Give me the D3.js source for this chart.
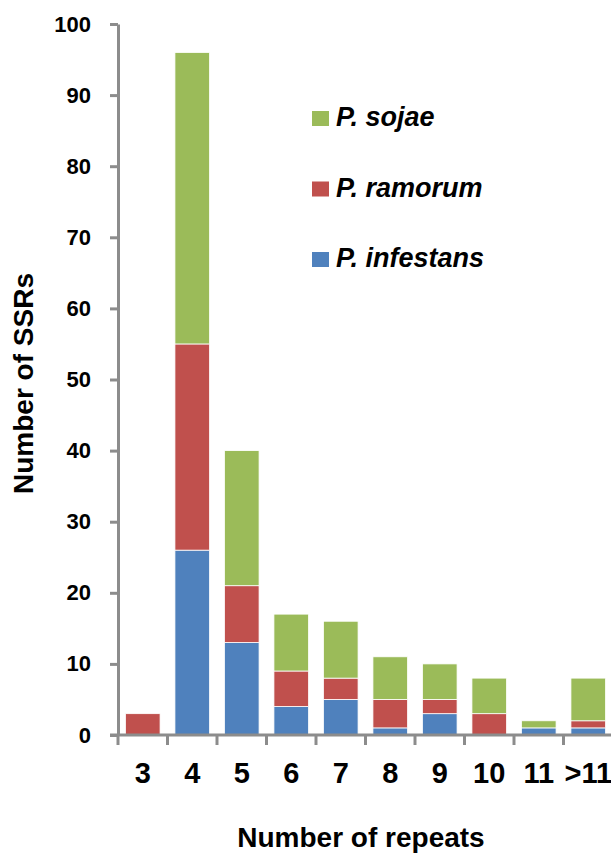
<!DOCTYPE html>
<html>
<head>
<meta charset="utf-8">
<script src="https://cdn.jsdelivr.net/npm/d3@7"></script>
<style>
  body { margin: 0; background: #fff; }
  svg text { font-family: "Liberation Sans", Arial, sans-serif; font-weight: bold; fill: #000; }
</style>
</head>
<body>
<div id="chart"></div>
<script>
const WIDTH = 611;
const HEIGHT = 854;

// data
const categories = ["3", "4", "5", "6", "7", "8", "9", "10", "11", ">11"];
const infestans = [0, 26, 13, 4, 5, 1, 3, 0, 1, 1];
const ramorum   = [3, 29, 8, 5, 3, 4, 2, 3, 0, 1];
const sojae     = [0, 41, 19, 8, 8, 6, 5, 5, 1, 6];
const seriesNames = ["P. infestans", "P. ramorum", "P. sojae"];
const seriesColors = ["#4F81BD", "#C0504D", "#9BBB59"];
const yTicks = [0, 10, 20, 30, 40, 50, 60, 70, 80, 90, 100];

let margin = {top: 24, right: -2, bottom: 119, left: 118};
let width = WIDTH - margin.left - margin.right;
let height = HEIGHT - margin.top - margin.bottom;

let rows = categories.map(function(c, i) {
  return {cat: c, "P. infestans": infestans[i], "P. ramorum": ramorum[i], "P. sojae": sojae[i]};
});
let stacked = d3.stack().keys(seriesNames)(rows);

let xScale = d3.scaleBand().domain(categories).range([0, width])
  .paddingInner(0.3).paddingOuter(0.15);
let yScale = d3.scaleLinear().domain([0, 100]).range([height, 0]);
let color = d3.scaleOrdinal().domain(seriesNames).range(seriesColors);

let svg = d3.select("#chart").append("svg")
  .attr("width", WIDTH)
  .attr("height", HEIGHT);
let svgG = svg.append("g")
  .attr("transform", "translate(" + margin.left + "," + margin.top + ")");

// bars
svgG.append("g").classed("bars", true)
  .selectAll("g.series").data(stacked).enter()
  .append("g").classed("series", true)
  .attr("fill", function(d) { return color(d.key); })
  .selectAll("rect").data(function(d) { return d; }).enter()
  .append("rect")
  .attr("x", function(d) { return xScale(d.data.cat); })
  .attr("width", xScale.bandwidth())
  .attr("y", function(d) { return yScale(d[1]); })
  .attr("height", function(d) { return yScale(d[0]) - yScale(d[1]); })
  .attr("stroke", "#fff")
  .attr("stroke-width", 0.8);

// y-axis
let yAxis = d3.axisLeft(yScale).tickValues(yTicks).tickSize(8).tickSizeOuter(0).tickPadding(19);
let yG = svgG.append("g").attr("class", "y axis").call(yAxis);
yG.select(".domain").attr("stroke", "#8c8c8c").attr("stroke-width", 3);
yG.selectAll(".tick line").attr("stroke", "#8c8c8c").attr("stroke-width", 3);
yG.selectAll(".tick text").style("font-size", "22px").attr("font-family", null);

// x-axis: ticks on category boundaries
let bounds = d3.range(categories.length + 1).map(function(i) { return i * xScale.step(); });
let xG = svgG.append("g").attr("class", "x axis")
  .attr("transform", "translate(0," + height + ")");
xG.append("line")
  .attr("x1", -8).attr("x2", width)
  .attr("stroke", "#8c8c8c").attr("stroke-width", 3);
xG.selectAll("line.tick").data(bounds).enter()
  .append("line").classed("tick", true)
  .attr("x1", function(d) { return d; })
  .attr("x2", function(d) { return d; })
  .attr("y1", 0).attr("y2", 10)
  .attr("stroke", "#8c8c8c").attr("stroke-width", 3);
xG.selectAll("text.label").data(categories).enter()
  .append("text").classed("label", true)
  .attr("x", function(d) { return xScale(d) + xScale.bandwidth() / 2; })
  .attr("y", 48)
  .attr("text-anchor", "middle")
  .style("font-size", "29px")
  .text(function(d) { return d; });

// axis titles
svg.append("text")
  .attr("x", 361)
  .attr("y", 847)
  .attr("text-anchor", "middle")
  .style("font-size", "28px")
  .text("Number of repeats");
svg.append("text")
  .attr("transform", "translate(33," + (margin.top + height / 2 + 4) + ") rotate(-90)")
  .attr("text-anchor", "middle")
  .style("font-size", "28px")
  .text("Number of SSRs");

// legend, top entry is the top of the stack
let legendKeys = seriesNames.slice().reverse();
let legend = svg.append("g").classed("legend", true)
  .selectAll("g").data(legendKeys).enter()
  .append("g")
  .attr("transform", function(d, i) { return "translate(312," + (126 + i * 70.5) + ")"; });
legend.append("rect")
  .attr("x", 0).attr("y", -15)
  .attr("width", 17).attr("height", 15)
  .attr("fill", function(d) { return color(d); });
legend.append("text")
  .attr("x", 24)
  .attr("y", 0)
  .style("font-size", "27px")
  .style("font-style", "italic")
  .text(function(d) { return d; });
</script>
</body>
</html>
